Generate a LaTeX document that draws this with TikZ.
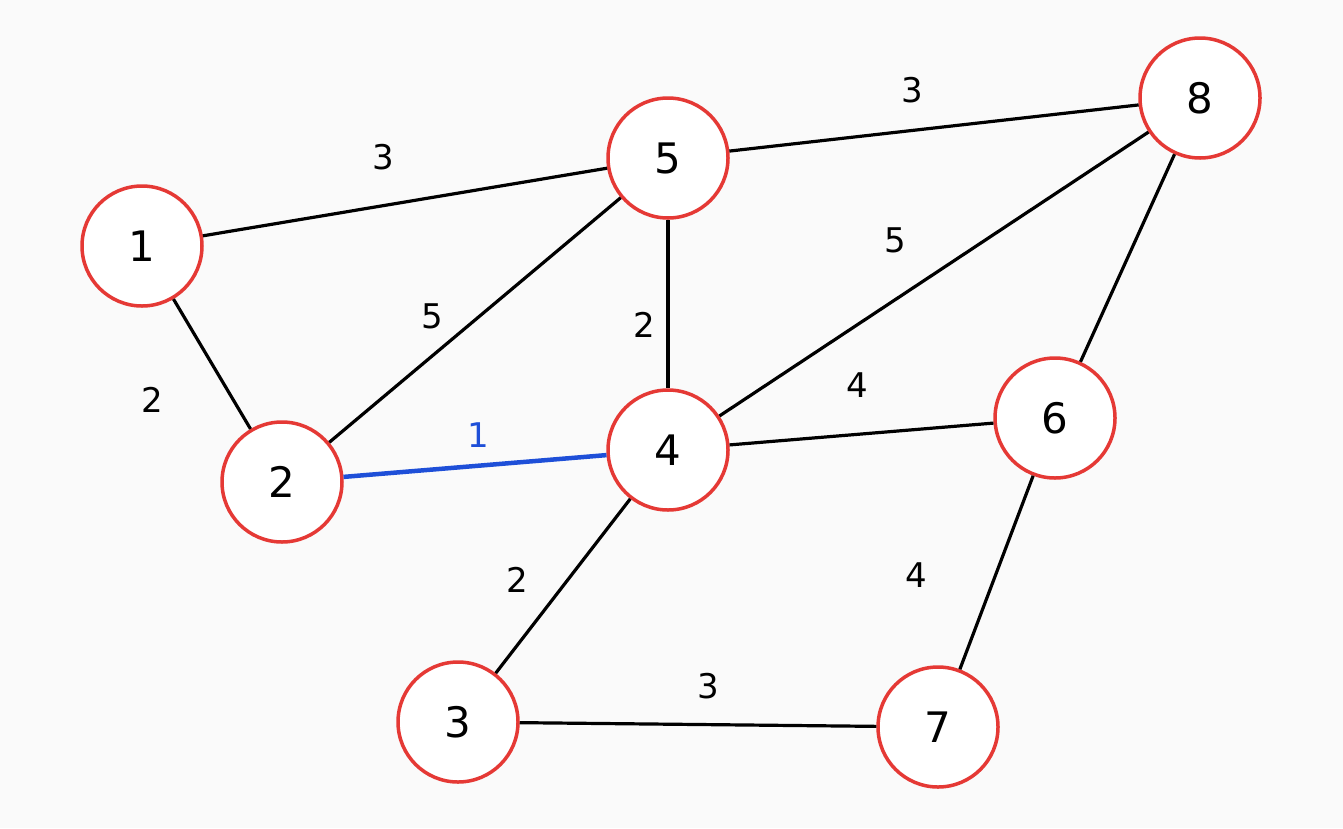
\documentclass[tikz,border=0pt]{standalone}
\usepackage{fontspec}
\setmainfont{DejaVu Sans}
\definecolor{nodered}{HTML}{E53935}
\definecolor{edgeblue}{HTML}{1E4FD8}
\definecolor{bg}{HTML}{FAFAFA}
\begin{document}
\begin{tikzpicture}[x=1pt,y=-1pt,
  vertex/.style={circle,draw=nodered,line width=3.5pt,fill=white,minimum size=120pt,inner sep=0pt,font=\fontsize{42}{46}\selectfont},
  edge/.style={line width=3.2pt,black},
  wlabel/.style={font=\fontsize{34}{38}\selectfont}]
\fill[bg] (0,0) rectangle (1343,828);
\useasboundingbox (0,0) rectangle (1343,828);
\node[vertex] (n1) at (142,246) {1};
\node[vertex] (n2) at (282,482) {2};
\node[vertex] (n5) at (668,158) {5};
\node[vertex] (n8) at (1200,98) {8};
\node[vertex] (n4) at (668,450) {4};
\node[vertex] (n6) at (1055,418) {6};
\node[vertex] (n3) at (458,722) {3};
\node[vertex] (n7) at (938,727) {7};
\draw[edge] (n1) -- (n5);
\draw[edge] (n5) -- (n8);
\draw[edge] (n1) -- (n2);
\draw[edge] (n2) -- (n5);
\draw[edge] (n5) -- (n4);
\draw[edge] (n4) -- (n8);
\draw[edge] (n4) -- (n6);
\draw[edge] (n8) -- (n6);
\draw[edge] (n4) -- (n3);
\draw[edge] (n6) -- (n7);
\draw[edge] (n3) -- (n7);
\draw[line width=4.5pt,edgeblue] (n2) -- (n4);
\node[wlabel] (l15) at (383,157) {3};
\node[wlabel] (l58) at (912,90) {3};
\node[wlabel] (l12) at (152,400) {2};
\node[wlabel] (l25) at (432,316) {5};
\node[wlabel] (l54) at (644,325) {2};
\node[wlabel] (l48) at (895,240) {5};
\node[wlabel] (l46) at (857,385) {4};
\node[wlabel,text=edgeblue] (l24) at (478,435) {1};
\node[wlabel] (l43) at (517,580) {2};
\node[wlabel] (l67) at (916,575) {4};
\node[wlabel] (l37) at (708,686) {3};
\end{tikzpicture}
\end{document}
